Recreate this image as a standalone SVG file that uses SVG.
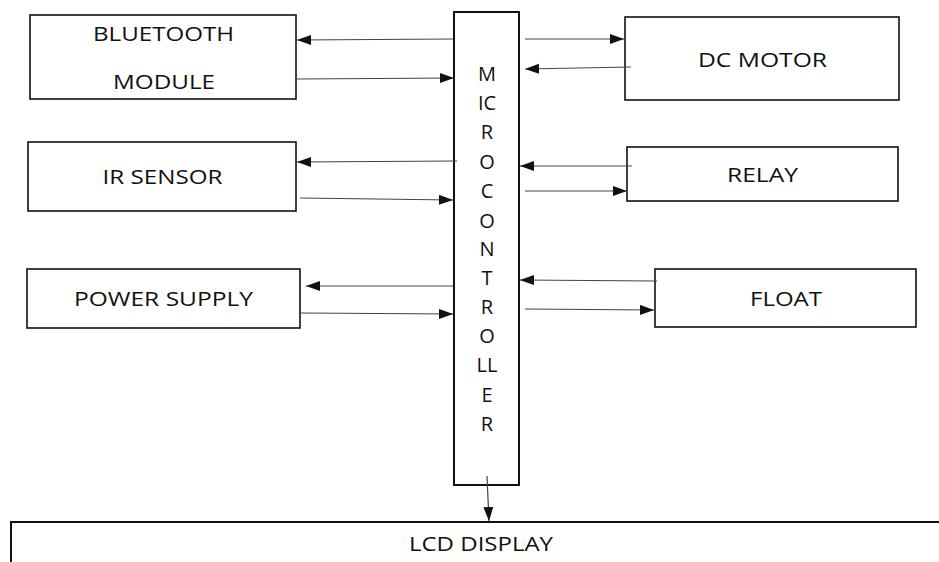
<svg xmlns="http://www.w3.org/2000/svg" width="939" height="562" viewBox="0 0 939 562">
<style>
.box{fill:#fff;stroke:#111;stroke-width:1.6}
.lbl{font-family:"Open Sans","DejaVu Sans",sans-serif;font-size:20px;fill:#111;text-anchor:middle}
.con{stroke:#444;stroke-width:1.2;fill:none;marker-end:url(#ah)}
</style>
<defs>
<marker id="ah" markerUnits="userSpaceOnUse" markerWidth="15" markerHeight="11" refX="14" refY="5" orient="auto">
<path d="M0,0 L14,5 L0,10 z" fill="#111"/>
</marker>
</defs>
<rect width="939" height="562" fill="#fff"/>
<g id="bluetooth">
<rect class="box" x="30" y="15" width="266" height="84"/>
<text class="lbl" x="163.5" y="41" textLength="141" lengthAdjust="spacingAndGlyphs">BLUETOOTH</text>
<text class="lbl" x="164" y="89" textLength="102" lengthAdjust="spacingAndGlyphs">MODULE</text>
</g>
<g id="ir-sensor">
<rect class="box" x="28" y="142" width="268" height="69"/>
<text class="lbl" x="162.5" y="184" textLength="120" lengthAdjust="spacingAndGlyphs">IR SENSOR</text>
</g>
<g id="power-supply">
<rect class="box" x="27" y="269" width="273" height="59"/>
<text class="lbl" x="163.5" y="305.5" textLength="179" lengthAdjust="spacingAndGlyphs">POWER SUPPLY</text>
</g>
<g id="dc-motor">
<rect class="box" x="625" y="17" width="274" height="83"/>
<text class="lbl" x="762.5" y="66.5" textLength="129" lengthAdjust="spacingAndGlyphs">DC MOTOR</text>
</g>
<g id="relay">
<rect class="box" x="627" y="147" width="271" height="54"/>
<text class="lbl" x="762.5" y="181.5" textLength="71" lengthAdjust="spacingAndGlyphs">RELAY</text>
</g>
<g id="float">
<rect class="box" x="655" y="269" width="261" height="58"/>
<text class="lbl" x="786" y="305.5" textLength="72" lengthAdjust="spacingAndGlyphs">FLOAT</text>
</g>
<g id="microcontroller">
<rect class="box" x="454" y="12" width="65" height="473" style="stroke-width:2"/>
<text class="lbl" x="487" y="81">M</text>
<text class="lbl" x="487" y="110">IC</text>
<text class="lbl" x="487" y="139">R</text>
<text class="lbl" x="487" y="169">O</text>
<text class="lbl" x="487" y="198">C</text>
<text class="lbl" x="487" y="228">O</text>
<text class="lbl" x="487" y="256">N</text>
<text class="lbl" x="487" y="285">T</text>
<text class="lbl" x="487" y="314">R</text>
<text class="lbl" x="487" y="343">O</text>
<text class="lbl" x="487" y="372">LL</text>
<text class="lbl" x="487" y="402">E</text>
<text class="lbl" x="487" y="431">R</text>
</g>
<g id="lcd-display">
<rect class="box" x="11" y="522" width="940" height="60" style="stroke-width:2"/>
<text class="lbl" x="481" y="551" textLength="144" lengthAdjust="spacingAndGlyphs">LCD DISPLAY</text>
</g>
<g id="connectors">
<line class="con" x1="453" y1="39" x2="297" y2="40"/>
<line class="con" x1="296" y1="79" x2="454" y2="78"/>
<line class="con" x1="457" y1="161" x2="297" y2="162"/>
<line class="con" x1="300" y1="198" x2="453" y2="200"/>
<line class="con" x1="453" y1="286" x2="306" y2="286"/>
<line class="con" x1="301" y1="313" x2="453" y2="314"/>
<line class="con" x1="525" y1="39" x2="624" y2="39"/>
<line class="con" x1="631" y1="67" x2="525" y2="69"/>
<line class="con" x1="632" y1="166" x2="520" y2="166"/>
<line class="con" x1="525" y1="191" x2="627" y2="191"/>
<line class="con" x1="657" y1="281" x2="520" y2="280"/>
<line class="con" x1="525" y1="309" x2="654" y2="310"/>
<line class="con" x1="487" y1="476" x2="489" y2="521"/>
</g>
</svg>
